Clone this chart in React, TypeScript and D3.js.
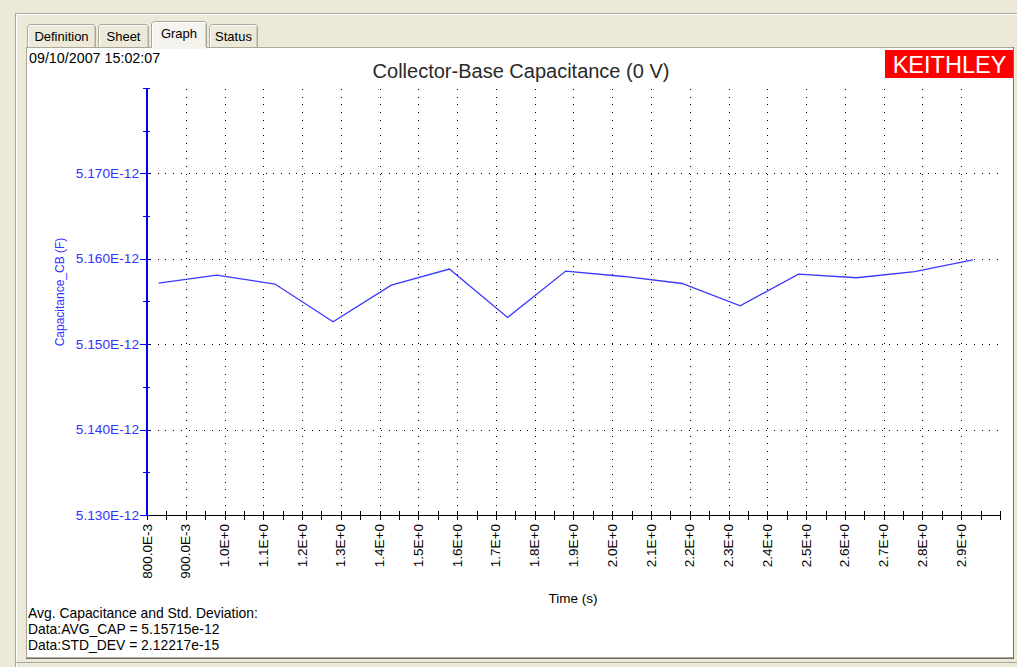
import React from "react";
import * as d3 from "d3";

// ---- data ----
const times = [0.83, 0.98, 1.13, 1.28, 1.43, 1.58, 1.73, 1.88, 2.03, 2.18, 2.33, 2.48, 2.63, 2.78, 2.93];
const capacitancePF = [5.15716, 5.15809, 5.15704, 5.15263, 5.15692, 5.1588, 5.15313, 5.15856, 5.15793, 5.15711, 5.1545, 5.15821, 5.15778, 5.15851, 5.15988];

const yTickValues = [5.13, 5.14, 5.15, 5.16, 5.17];
const yTickLabels = ["5.130E-12", "5.140E-12", "5.150E-12", "5.160E-12", "5.170E-12"];
const yMinorValues = [5.135, 5.145, 5.155, 5.165, 5.175, 5.18];

const xTickValues = [0.8, 0.9, 1.0, 1.1, 1.2, 1.3, 1.4, 1.5, 1.6, 1.7, 1.8, 1.9, 2.0, 2.1, 2.2, 2.3, 2.4, 2.5, 2.6, 2.7, 2.8, 2.9];
const xTickLabels = ["800.0E-3", "900.0E-3", "1.0E+0", "1.1E+0", "1.2E+0", "1.3E+0", "1.4E+0", "1.5E+0", "1.6E+0", "1.7E+0", "1.8E+0", "1.9E+0", "2.0E+0", "2.1E+0", "2.2E+0", "2.3E+0", "2.4E+0", "2.5E+0", "2.6E+0", "2.7E+0", "2.8E+0", "2.9E+0"];
const xMinorValues = [0.85, 0.95, 1.05, 1.15, 1.25, 1.35, 1.45, 1.55, 1.65, 1.75, 1.85, 1.95, 2.05, 2.15, 2.25, 2.35, 2.45, 2.55, 2.65, 2.75, 2.85, 2.95, 3.0];

const tabs = ["Definition", "Sheet", "Graph", "Status"];
const footerLines = ["Avg. Capacitance and Std. Deviation:", "Data:AVG_CAP = 5.15715e-12", "Data:STD_DEV = 2.12217e-15"];

const FONT = "'Liberation Sans', Arial, sans-serif";
const BEIGE = "#ECE9D8";

export default function App() {
  const W = 1017, H = 667;
  const x = d3.scaleLinear().domain([0.8, 3.0]).range([147, 1000]);
  const y = d3.scaleLinear().domain([5.13, 5.18]).range([515, 88]);
  const line = d3.line<number>().x((_, i) => x(times[i])).y((d) => y(d));

  const tabBoxes = [
    { x0: 27, x1: 96, sel: false },
    { x0: 98, x1: 149, sel: false },
    { x0: 151, x1: 207, sel: true },
    { x0: 209, x1: 258, sel: false },
  ];

  const px = (v: number) => Math.round(v) + 0.5;

  return (
    <svg width={W} height={H} style={{ position: "absolute", left: 0, top: 0, fontFamily: FONT }}>
      <rect x={0} y={0} width={W} height={H} fill={BEIGE} />
      {/* outer frame */}
      <line x1={15} y1={13.5} x2={W} y2={13.5} stroke="#ACA899" />
      <line x1={16} y1={14.5} x2={W} y2={14.5} stroke="#fff" />
      <line x1={15.5} y1={13} x2={15.5} y2={H} stroke="#ACA899" />
      <line x1={16.5} y1={14} x2={16.5} y2={H} stroke="#fff" />
      <line x1={15} y1={662.5} x2={W} y2={662.5} stroke="#ACA899" />

      {/* tabs */}
      {tabBoxes.map((t, i) => {
        const top = t.sel ? 21 : 24;
        const bottom = t.sel ? 48 : 47;
        return (
          <g key={i}>
            <path
              d={`M${t.x0 + 0.5},${bottom} V${top + 2.5} L${t.x0 + 2.5},${top + 0.5} H${t.x1 - 2.5} L${t.x1 - 0.5},${top + 2.5} V${bottom}`}
              fill={t.sel ? "#F4F3EE" : BEIGE}
              stroke="#ACA899"
            />
            <line x1={t.x0 + 1.5} y1={bottom} x2={t.x0 + 1.5} y2={top + 3} stroke="#fff" />
            <line x1={t.x0 + 3} y1={top + 1.5} x2={t.x1 - 3} y2={top + 1.5} stroke="#fff" />
            <line x1={t.x1 - 1.5} y1={top + 3} x2={t.x1 - 1.5} y2={bottom} stroke="#D0CDBE" />
            <text x={(t.x0 + t.x1) / 2} y={t.sel ? 38 : 41} fontSize={13} textAnchor="middle" fill="#000">
              {tabs[i]}
            </text>
          </g>
        );
      })}

      {/* content panel */}
      <rect x={26.5} y={47.5} width={987} height={610} fill="#fff" stroke="#ACA899" />
      <line x1={1013.5} y1={47} x2={1013.5} y2={658} stroke="#716F64" />
      <line x1={26} y1={658.5} x2={1014} y2={658.5} stroke="#716F64" />
      {/* selected tab joins panel */}
      <rect x={152} y={46} width={54} height={3} fill="#F4F3EE" />

      {/* date */}
      <text x={29} y={63} fontSize={14.3} fill="#000">09/10/2007 15:02:07</text>

      {/* title */}
      <text x={521} y={78} fontSize={20} textAnchor="middle" fill="#2a2a2a">Collector-Base Capacitance (0 V)</text>

      {/* logo */}
      <rect x={885} y={50} width={128} height={28} fill="#FF0000" />
      <text x={949.5} y={73} fontSize={23.5} textAnchor="middle" fill="#fff" style={{ fontWeight: 300 }}>KEITHLEY</text>

      {/* grid */}
      <g shapeRendering="crispEdges">
        {xTickValues.slice(1).map((v, i) => (
          <line key={"gx" + i} x1={px(x(v))} x2={px(x(v))} y1={89} y2={515} stroke="#000" strokeDasharray="1 6.7" />
        ))}
        {yTickValues.slice(1).map((v, i) => (
          <line key={"gy" + i} x1={150} x2={1000} y1={px(y(v))} y2={px(y(v))} stroke="#000" strokeDasharray="1 6.7" />
        ))}
      </g>

      {/* x axis */}
      <g shapeRendering="crispEdges">
        <line x1={147} x2={1000} y1={515.5} y2={515.5} stroke="#000" strokeWidth={1.5} />
        {[...xTickValues, ...xMinorValues].map((v, i) => (
          <line key={"xt" + i} x1={px(x(v))} x2={px(x(v))} y1={511} y2={520} stroke="#000" />
        ))}
      </g>
      {xTickValues.map((v, i) => (
        <text
          key={"xl" + i}
          transform={`translate(${x(v)},524) rotate(-90)`}
          fontSize={13.5}
          textAnchor="end"
          dominantBaseline="central"
          fill="#000"
        >
          {xTickLabels[i]}
        </text>
      ))}
      <text x={573} y={603} fontSize={13.5} textAnchor="middle" fill="#000">Time (s)</text>

      {/* y axis */}
      <g shapeRendering="crispEdges">
        {yMinorValues.map((v, i) => (
          <line key={"ym" + i} x1={143} x2={150} y1={px(y(v))} y2={px(y(v))} stroke="#0000FF" />
        ))}
        {yTickValues.map((v, i) => (
          <line key={"yt" + i} x1={140} x2={150} y1={px(y(v))} y2={px(y(v))} stroke="#0000FF" />
        ))}
        <line x1={147} x2={147} y1={88} y2={516} stroke="#0000FF" strokeWidth={2} />
      </g>
      {yTickValues.map((v, i) => (
        <text key={"yl" + i} x={139} y={y(v)} fontSize={13.7} textAnchor="end" dominantBaseline="central" fill="#3333FF">
          {yTickLabels[i]}
        </text>
      ))}
      <text transform="translate(60,292) rotate(-90)" fontSize={12} textAnchor="middle" dominantBaseline="central" fill="#3333FF">
        Capacitance_CB (F)
      </text>

      {/* data line */}
      <path d={line(capacitancePF) || ""} fill="none" stroke="#3838FF" strokeWidth={1.3} />

      {/* footer */}
      {footerLines.map((t, i) => (
        <text key={"f" + i} x={28} y={618 + i * 16} fontSize={13.9} fill="#000">{t}</text>
      ))}
    </svg>
  );
}
